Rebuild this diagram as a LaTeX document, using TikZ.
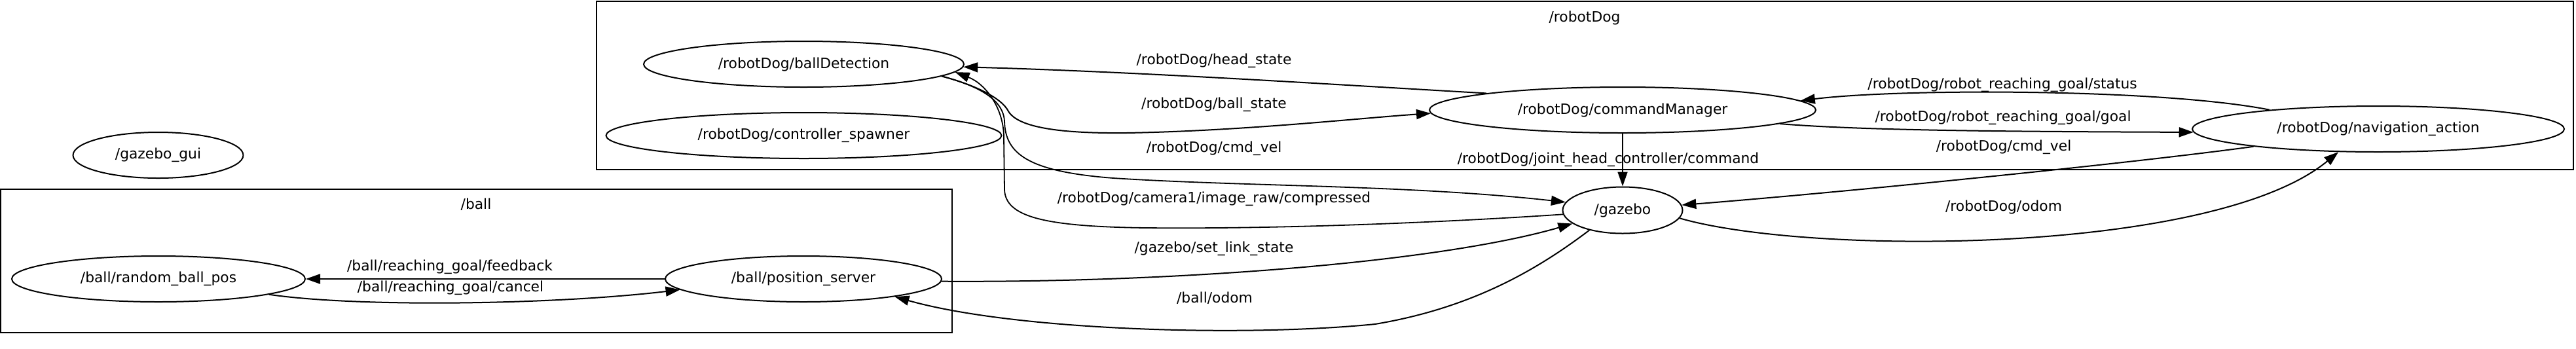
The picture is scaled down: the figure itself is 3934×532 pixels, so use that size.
\documentclass[tikz,border=0pt]{standalone}
\usepackage{fontspec}
\newfontfamily\dejavu{DejaVu Sans}
\usetikzlibrary{shapes.geometric,arrows.meta}
\newcommand{\gfont}{\dejavu\fontsize{10.9pt}{13pt}\selectfont}
\tikzset{
  gnode/.style={ellipse, draw, line width=1pt, inner sep=0pt, minimum height=35pt, font=\gfont},
  lbl/.style={font=\gfont, inner sep=0pt},
  cluster/.style={draw, line width=1pt},
  edge/.style={line width=1pt, -{Triangle[length=11pt,width=7.5pt]}},
  thinedge/.style={line width=0.9pt, -{Triangle[length=11pt,width=7.5pt]}}
}
\begin{document}
\begin{tikzpicture}[x=0.5pt,y=-0.5pt]
\useasboundingbox (0,0) rectangle (3934,532);
% clusters
\draw[cluster] (911,2) rectangle (3930,259);
\node[lbl] (lrobot) at (2420,27) {/robotDog};
\draw[cluster] (1,289) rectangle (1454,508);
\node[lbl] (lball) at (727,312) {/ball};
% nodes
\node[gnode, minimum width=244.5pt] (bd) at (1227.5,98) {/robotDog/ballDetection};
\node[gnode, minimum width=302pt] (cs) at (1227.5,207) {/robotDog/controller\_spawner};
\node[gnode, minimum width=295pt] (cm) at (2478,168) {/robotDog/commandManager};
\node[gnode, minimum width=284pt] (na) at (3632,197) {/robotDog/navigation\_action};
\node[gnode, minimum width=91.5pt, minimum height=35.5pt] (gz) at (2478,321) {/gazebo};
\node[gnode, minimum width=130pt] (gg) at (241.5,237) {/gazebo\_gui};
\node[gnode, minimum width=224pt] (rb) at (242,426) {/ball/random\_ball\_pos};
\node[gnode, minimum width=211pt] (ps) at (1227,426) {/ball/position\_server};
% edges
\draw[edge] (cm.173.7) .. controls (2050,130) and (1750,110) .. (bd.-1);
\node[lbl] (l1) at (1854,93) {/robotDog/head\_state};
\draw[edge] (bd.-5.5) .. controls (1490,130) and (1530,150) .. (1540,170)
  .. controls (1555,195) and (1620,204) .. (1720,203)
  .. controls (1900,200) and (2080,180) .. (cm.181.6);
\node[lbl] (l2) at (1854,160) {/robotDog/ball\_state};
\draw[thinedge] (bd.-5.5) .. controls (1490,130) and (1532,150) .. (1534,185)
  .. controls (1535,235) and (1570,262) .. (1700,272)
  .. controls (1900,285) and (2150,282) .. (gz.172.9);
\node[lbl] (l3) at (1854,227) {/robotDog/cmd\_vel};
\draw[thinedge] (gz.-176.25) .. controls (2200,340) and (1950,350) .. (1750,348)
  .. controls (1590,346) and (1536,330) .. (1534,290) -- (1533,210)
  .. controls (1533,165) and (1505,128) .. (bd.-3);
\node[lbl] (l4) at (1854,304) {/robotDog/camera1/image\_raw/compressed};
\draw[thinedge] (cm.south) -- (gz.north);
\node[lbl] (l5) at (2456,244) {/robotDog/joint\_head\_controller/command};
\draw[edge] (na.170.7) .. controls (3300,135) and (2900,135) .. (cm.3.2);
\node[lbl] (l6) at (3058,130) {/robotDog/robot\_reaching\_goal/status};
\draw[edge] (cm.-5.2) .. controls (2850,200) and (3100,201) .. (na.-179.4);
\node[lbl] (l7) at (3059,180) {/robotDog/robot\_reaching\_goal/goal};
\draw[edge] (na.-172) .. controls (3250,250) and (2800,295) .. (gz.5.1);
\node[lbl] (l8) at (3060,225) {/robotDog/cmd\_vel};
\draw[edge] (gz.-8.5) .. controls (2760,390) and (3380,390) .. (na.-150);
\node[lbl] (l9) at (3060,316) {/robotDog/odom};
\draw[edge] (ps.west) -- (rb.east);
\node[lbl] (l10) at (687,408) {/ball/reaching\_goal/feedback};
\draw[edge] (rb.-8.4) .. controls (550,470) and (850,465) .. (ps.-175);
\node[lbl] (l11) at (688,440) {/ball/reaching\_goal/cancel};
\draw[edge] (ps.-1.6) .. controls (1800,432) and (2200,400) .. (gz.-165.4);
\node[lbl] (l12) at (1854,380) {/gazebo/set\_link\_state};
\draw[edge] (gz.-149) .. controls (2350,410) and (2250,470) .. (2100,495)
  .. controls (1900,515) and (1550,505) .. (ps.-11);
\node[lbl] (l13) at (1855,455) {/ball/odom};
\end{tikzpicture}
\end{document}
